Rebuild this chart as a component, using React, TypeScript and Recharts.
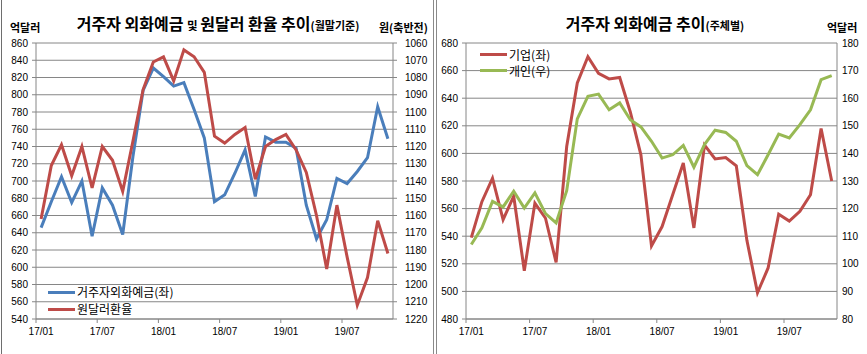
import { LineChart, Line, XAxis, YAxis, CartesianGrid, Legend } from "recharts";

const months = [
  "17/01", "17/02", "17/03", "17/04", "17/05", "17/06", "17/07", "17/08", "17/09", "17/10", "17/11", "17/12",
  "18/01", "18/02", "18/03", "18/04", "18/05", "18/06", "18/07", "18/08", "18/09", "18/10", "18/11", "18/12",
  "19/01", "19/02", "19/03", "19/04", "19/05", "19/06", "19/07", "19/08", "19/09", "19/10", "19/11",
];

// 거주자 외화예금 (억달러, 좌축)
const deposits = [
  646, 676, 705, 675, 700, 636, 692, 672, 638, 728, 805, 831,
  821, 810, 814, 783, 750, 676, 684, 709, 736, 682, 751, 745,
  745, 738, 672, 633, 655, 703, 697, 711, 727, 786, 749,
];

// 원달러 환율 (원, 우축 반전)
const fxRate = [
  1162, 1131, 1119, 1137, 1120, 1144, 1120, 1128, 1146, 1117, 1087, 1071,
  1068, 1082, 1064, 1068, 1077, 1114, 1118, 1113, 1109, 1139, 1120, 1116,
  1113, 1122, 1135, 1160, 1191, 1154, 1184, 1212, 1196, 1163, 1182,
];

// 기업 (억달러, 좌축)
const corporate = [
  539, 565, 582, 552, 569, 515, 564, 553, 521, 605, 651, 670,
  658, 654, 655, 630, 599, 533, 547, 570, 593, 546, 606, 596,
  597, 591, 537, 499, 517, 556, 551, 558, 570, 618, 580,
];

// 개인 (억달러, 우축)
const individual = [
  107, 113, 122.6, 120.6, 126.3, 120.2, 125.7, 118.2, 114.8, 126.5, 152.5, 160.7,
  161.5, 155.8, 158.3, 152.2, 149.6, 144.4, 138.3, 139.5, 142.9, 135, 143.2, 148.4,
  147.6, 144.4, 135.6, 132.3, 139.5, 147, 145.6, 150.4, 155.8, 166.7, 168.2,
];

const xTicks = [-0.5, 5.5, 11.5, 17.5, 23.5, 29.5];
const depositTicks = [540, 560, 580, 600, 620, 640, 660, 680, 700, 720, 740, 760, 780, 800, 820, 840, 860];
const fxTicks = [1060, 1070, 1080, 1090, 1100, 1110, 1120, 1130, 1140, 1150, 1160, 1170, 1180, 1190, 1200, 1210, 1220];
const corpTicks = [480, 500, 520, 540, 560, 580, 600, 620, 640, 660, 680];
const indivTicks = [80, 90, 100, 110, 120, 130, 140, 150, 160, 170, 180];

const leftData = months.map((m, i) => ({ i, month: m, deposit: deposits[i], fx: fxRate[i] }));
const rightData = months.map((m, i) => ({ i, month: m, corp: corporate[i], indiv: individual[i] }));

const BLUE = "#4a7ebb";
const RED = "#be4b48";
const GREEN = "#98b954";
const GRID = "#868686";
const NUM_FONT = "'Liberation Sans', Arial, 'Noto Sans CJK KR', sans-serif";
const KR_FONT = "'Noto Sans CJK KR', 'Noto Sans', sans-serif";

const tickStyle = { fontSize: 10, fill: "#000", fontFamily: NUM_FONT };

function MonthTick(props: any) {
  const { x, y, payload, shift } = props;
  const label = months[Math.round(payload.value + 0.5)];
  return (
    <text x={x + shift} y={y} dy={10} textAnchor="middle" fontSize={10} fill="#000" fontFamily={NUM_FONT}>
      {label}
    </text>
  );
}

function LegendBox(props: any) {
  const { payload, gap } = props;
  return (
    <div style={{ fontFamily: KR_FONT, fontSize: 12, color: "#000" }}>
      {(payload || []).map((p: any) => (
        <div key={p.value} style={{ display: "flex", alignItems: "center", height: gap }}>
          <span style={{ display: "inline-block", width: 27, height: 3, background: p.color, marginRight: 2 }} />
          <span style={{ lineHeight: 1 }}>{p.value}</span>
        </div>
      ))}
    </div>
  );
}

const abs = (style: any) => ({ position: "absolute" as const, ...style });

export default function App() {
  return (
    <div style={abs({ left: 0, top: 0, width: 867, height: 354, background: "#fff", overflow: "hidden", fontFamily: KR_FONT })}>
      {/* frame lines */}
      <div style={abs({ left: 1, top: 0, width: 1, height: 354, background: "#6e6e6e" })} />
      <div style={abs({ left: 433, top: 0, width: 1, height: 354, background: "#8a8a8a" })} />
      <div style={abs({ left: 436, top: 0, width: 1, height: 354, background: "#8a8a8a" })} />

      {/* left chart */}
      <div style={abs({ left: 0, top: 0, width: 432, height: 354 })}>
        <LineChart width={432} height={354} data={leftData} margin={{ top: 43, right: 0, bottom: 0, left: 0 }}>
          <CartesianGrid vertical={false} stroke={GRID} yAxisId="l" />
          <XAxis
            dataKey="i"
            type="number"
            domain={[-0.5, 34.5]}
            ticks={xTicks}
            interval={0}
            height={35}
            stroke={GRID}
            tickSize={4}
            tick={<MonthTick shift={5.1} />}
          />
          <YAxis yAxisId="l" orientation="left" width={36} domain={[540, 860]} ticks={depositTicks} interval={0}
            stroke={GRID} tickSize={4} tickMargin={4} tick={tickStyle} />
          <YAxis yAxisId="r" orientation="right" width={39} domain={[1060, 1220]} ticks={fxTicks} interval={0}
            reversed stroke={GRID} tickSize={4} tickMargin={8} tick={tickStyle} />
          <Line yAxisId="l" dataKey="deposit" name="거주자외화예금(좌)" type="linear" stroke={BLUE} strokeWidth={3} dot={false} isAnimationActive={false} />
          <Line yAxisId="r" dataKey="fx" name="원달러환율" type="linear" stroke={RED} strokeWidth={3} dot={false} isAnimationActive={false} />
          <Legend layout="vertical" align="center" verticalAlign="middle" itemSorter="dataKey"
            wrapperStyle={{ left: 48, top: 284, width: 140, height: 34 }}
            content={<LegendBox gap={16.7} />} />
        </LineChart>
      </div>
      <div style={abs({ left: 0, top: 11, width: 432, textAlign: "center", whiteSpace: "nowrap", fontWeight: 700, color: "#000", paddingLeft: 2 })}>
        <span style={{ fontSize: 16 }}>거주자 외화예금 </span>
        <span style={{ fontSize: 11.5 }}>및 </span>
        <span style={{ fontSize: 16 }}>원달러 환율 추이</span>
        <span style={{ fontSize: 11 }}>(월말기준)</span>
      </div>
      <div style={abs({ left: 10, top: 19, fontSize: 11, fontWeight: 700, color: "#000" })}>억달러</div>
      <div style={abs({ left: 379, top: 19, fontSize: 11, fontWeight: 700, color: "#000", whiteSpace: "nowrap" })}>원(축반전)</div>

      {/* right chart */}
      <div style={abs({ left: 435, top: 0, width: 432, height: 354 })}>
        <LineChart width={432} height={354} data={rightData} margin={{ top: 43, right: 0, bottom: 0, left: 0 }}>
          <CartesianGrid vertical={false} stroke={GRID} yAxisId="l" />
          <XAxis
            dataKey="i"
            type="number"
            domain={[-0.5, 34.5]}
            ticks={xTicks}
            interval={0}
            height={35}
            stroke={GRID}
            tickSize={4}
            tick={<MonthTick shift={5.3} />}
          />
          <YAxis yAxisId="l" orientation="left" width={31} domain={[480, 680]} ticks={corpTicks} interval={0}
            stroke={GRID} tickSize={4} tickMargin={4} tick={tickStyle} />
          <YAxis yAxisId="r" orientation="right" width={30} domain={[80, 180]} ticks={indivTicks} interval={0}
            stroke={GRID} tickSize={0} tickMargin={5} tick={tickStyle} />
          <Line yAxisId="l" dataKey="corp" name="기업(좌)" type="linear" stroke={RED} strokeWidth={3} dot={false} isAnimationActive={false} />
          <Line yAxisId="r" dataKey="indiv" name="개인(우)" type="linear" stroke={GREEN} strokeWidth={3} dot={false} isAnimationActive={false} />
          <Legend layout="vertical" align="center" verticalAlign="middle" itemSorter="dataKey"
            wrapperStyle={{ left: 45, top: 47, width: 100, height: 32 }}
            content={<LegendBox gap={15.7} />} />
        </LineChart>
      </div>
      <div style={abs({ left: 435, top: 11, width: 432, textAlign: "center", whiteSpace: "nowrap", fontWeight: 700, color: "#000", paddingLeft: 4 })}>
        <span style={{ fontSize: 16 }}>거주자 외화예금 추이</span>
        <span style={{ fontSize: 11 }}>(주체별)</span>
      </div>
      <div style={abs({ left: 827, top: 19, fontSize: 11, fontWeight: 700, color: "#000" })}>억달러</div>
    </div>
  );
}
